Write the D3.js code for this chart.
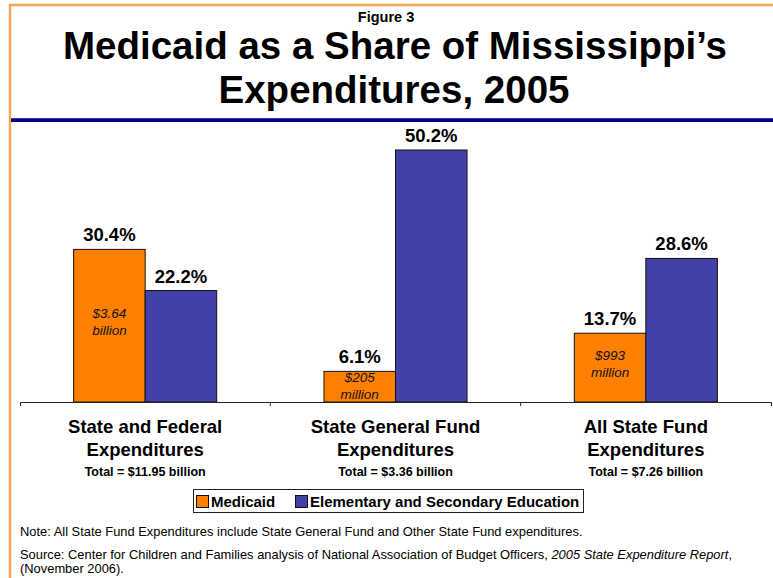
<!DOCTYPE html>
<html>
<head>
<meta charset="utf-8">
<script src="https://cdn.jsdelivr.net/npm/d3@7"></script>
<style>
  html, body { margin: 0; padding: 0; background: #fff; }
  svg { display: block; }
  text { font-family: "Liberation Sans", Arial, Helvetica, sans-serif; }
</style>
</head>
<body>
<svg id="chart" width="773" height="578"></svg>
<script>
const categories = ["State and Federal Expenditures", "State General Fund Expenditures", "All State Fund Expenditures"];
const categoryLines = [["State and Federal", "Expenditures"], ["State General Fund", "Expenditures"], ["All State Fund", "Expenditures"]];
const totals = ["Total = $11.95 billion", "Total = $3.36 billion", "Total = $7.26 billion"];
const series = ["Medicaid", "Elementary and Secondary Education"];
const medicaid = [30.4, 6.1, 13.7];
const education = [22.2, 50.2, 28.6];
const medicaidDollars = [["$3.64", "billion"], ["$205", "million"], ["$993", "million"]];
const colors = ["#ff8000", "#4141a8"];

const svg = d3.select("#chart");
const W = 773, H = 578;

// frame
svg.append("line").attr("x1", 10).attr("y1", 5).attr("x2", W).attr("y2", 5)
  .attr("stroke", "#f9a555").attr("stroke-width", 2.5);
svg.append("line").attr("x1", 10).attr("y1", 4).attr("x2", 10).attr("y2", H)
  .attr("stroke", "#f9a555").attr("stroke-width", 2.5);

// titles
svg.append("text").attr("x", 386).attr("y", 22).attr("text-anchor", "middle")
  .attr("font-weight", "bold").attr("font-size", 14.5).text("Figure 3");
svg.append("text").attr("x", 395).attr("y", 59).attr("text-anchor", "middle")
  .attr("font-weight", "bold").attr("font-size", 38.5).text("Medicaid as a Share of Mississippi\u2019s");
svg.append("text").attr("x", 394).attr("y", 103).attr("text-anchor", "middle")
  .attr("font-weight", "bold").attr("font-size", 38.5).text("Expenditures, 2005");

// navy rule
svg.append("line").attr("x1", 11).attr("x2", W).attr("y1", 118.5).attr("y2", 118.5)
  .attr("stroke", "#3b3bb0").attr("stroke-width", 1);
svg.append("line").attr("x1", 11).attr("x2", W).attr("y1", 120.5).attr("y2", 120.5)
  .attr("stroke", "#000088").attr("stroke-width", 3);

// scales
const x = d3.scaleBand().domain(categories).range([20, 771]).paddingInner(0).paddingOuter(0);
const x1 = d3.scaleBand().domain(series).range([0, x.bandwidth()]).paddingInner(0).paddingOuter(0.75);
const y = d3.scaleLinear().domain([0, 60]).range([402, 100.8]);

const data = categories.map((c, i) => ({ cat: c, i, vals: [medicaid[i], education[i]] }));

const g = svg.append("g");
const groups = g.selectAll("g.grp").data(data).join("g")
  .attr("class", "grp").attr("transform", d => `translate(${x(d.cat)},0)`);

groups.selectAll("rect").data(d => d.vals.map((v, k) => ({ v, k, s: series[k] }))).join("rect")
  .attr("x", d => x1(d.s)).attr("width", x1.bandwidth())
  .attr("y", d => y(d.v)).attr("height", d => y(0) - y(d.v))
  .attr("fill", d => colors[d.k]).attr("stroke", "#111").attr("stroke-width", 1);

groups.selectAll("text.val").data(d => d.vals.map((v, k) => ({ v, k, s: series[k] }))).join("text")
  .attr("class", "val")
  .attr("x", d => x1(d.s) + x1.bandwidth() / 2)
  .attr("y", d => y(d.v) - 8)
  .attr("text-anchor", "middle").attr("font-weight", "bold").attr("font-size", 18.5)
  .text(d => d3.format(".1f")(d.v) + "%");

// dollar labels inside medicaid bars
groups.each(function(d) {
  const cx = x1(series[0]) + x1.bandwidth() / 2;
  const mid = (y(d.vals[0]) + y(0)) / 2 - 5;
  const t = d3.select(this).append("text").attr("text-anchor", "middle")
    .attr("font-style", "italic").attr("font-size", 13.5).attr("fill", "#111");
  medicaidDollars[d.i].forEach((line, j) => {
    t.append("tspan").attr("x", cx).attr("y", Math.max(mid - 3, y(d.vals[0]) + 11) + (j === 0 ? 0 : 17)).text(line);
  });
});

// axis
const axis = d3.axisBottom(x).tickSizeInner(0).tickSizeOuter(4).tickFormat("");
const ax = svg.append("g").attr("transform", `translate(0,${y(0)})`).call(axis);
ax.select(".domain").attr("stroke", "#222");
ax.selectAll(".tick").remove();
ax.selectAll("line.sep").data(categories.slice(1)).join("line").attr("class", "sep")
  .attr("x1", d => x(d)).attr("x2", d => x(d)).attr("y1", 0).attr("y2", 4).attr("stroke", "#222");

// category labels
const labels = svg.append("g");
data.forEach(d => {
  const cx = x(d.cat) + x.bandwidth() / 2;
  categoryLines[d.i].forEach((line, j) => {
    labels.append("text").attr("x", cx).attr("y", 433 + j * 23).attr("text-anchor", "middle")
      .attr("font-weight", "bold").attr("font-size", 18.5).text(line);
  });
  labels.append("text").attr("x", cx).attr("y", 476).attr("text-anchor", "middle")
    .attr("font-weight", "bold").attr("font-size", 12.5).text(totals[d.i]);
});

// legend
const lg = svg.append("g");
lg.append("rect").attr("x", 193.5).attr("y", 489.5).attr("width", 390).attr("height", 23)
  .attr("fill", "#fff").attr("stroke", "#222").attr("stroke-width", 1);
const legendX = [196, 295];
series.forEach((s, k) => {
  lg.append("rect").attr("x", legendX[k] + 0.5).attr("y", 495.5).attr("width", 12).attr("height", 12)
    .attr("fill", colors[k]).attr("stroke", "#111");
  lg.append("text").attr("x", legendX[k] + 15).attr("y", 507).attr("font-weight", "bold")
    .attr("font-size", 15).text(s);
});

// notes
svg.append("text").attr("x", 20).attr("y", 536).attr("font-size", 12.9).text(
  "Note: All State Fund Expenditures include State General Fund and Other State Fund expenditures.");
const src = svg.append("text").attr("x", 20).attr("y", 559).attr("font-size", 12.9);
src.append("tspan").text("Source: Center for Children and Families analysis of National Association of Budget Officers, ");
src.append("tspan").attr("font-style", "italic").text("2005 State Expenditure Report");
src.append("tspan").text(",");
svg.append("text").attr("x", 20).attr("y", 573).attr("font-size", 12.9).text("(November 2006).");
</script>
</body>
</html>
